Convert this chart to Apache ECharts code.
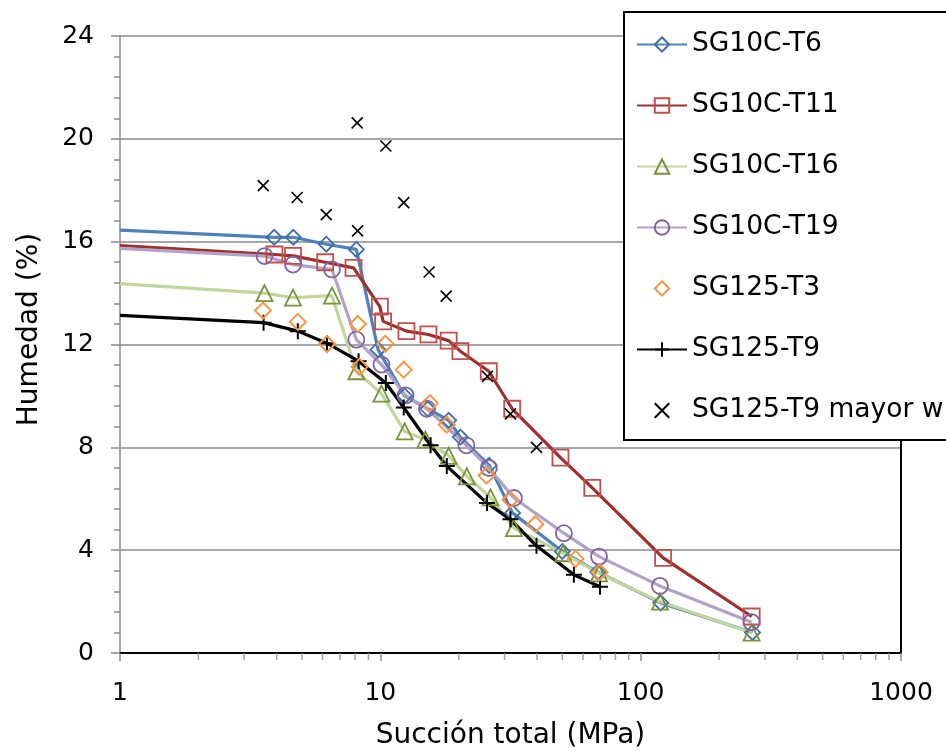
<!DOCTYPE html>
<html>
<head>
<meta charset="utf-8">
<script src="https://cdn.jsdelivr.net/npm/echarts@6/dist/echarts.min.js"></script>
<style>
html,body{margin:0;padding:0;background:#fff;}
#chart{width:946px;height:751px;}
</style>
</head>
<body>
<div id="chart"></div>
<script>
// ---- data (suction MPa, humidity %) ----
const seriesNames = ['SG10C-T6','SG10C-T11','SG10C-T16','SG10C-T19','SG125-T3','SG125-T9','SG125-T9 mayor w'];

const t6 = [[1,16.45],[3.91,16.17],[4.63,16.17],[6.2,15.9],[8.09,15.7],[9.8,11.8],[12.4,10.0],[15.2,9.5],[18.3,9.05],[20.3,8.4],[26.2,7.3],[32.2,5.45],[50,3.95],[68.4,3.15],[119.4,1.95],[269,0.8]];
const t11 = [[1,15.85],[3.92,15.5],[4.62,15.45],[6.14,15.2],[7.89,14.98],[9.96,13.47],[10.25,12.9],[12.6,12.52],[15.3,12.39],[18.3,12.15],[20.3,11.74],[26.1,10.96],[32.1,9.5],[49.2,7.6],[65.2,6.42],[122,3.7],[267,1.42]];
const t16 = [[1,14.37],[3.59,14.0],[4.62,13.82],[6.52,13.9],[8.09,10.96],[10.1,10.09],[12.4,8.62],[14.9,8.3],[18.3,7.67],[21.5,6.87],[26.5,6.05],[32.6,4.86],[50.4,3.88],[69.2,3.1],[118.6,2.0],[266.6,0.79]];
const t19 = [[1,15.74],[3.59,15.44],[4.62,15.11],[6.52,14.92],[8.09,12.19],[10.1,11.22],[12.5,10.02],[15.1,9.5],[21.4,8.08],[26.1,7.2],[32.6,6.03],[50.7,4.66],[69.2,3.75],[118.6,2.61],[266.6,1.2]];
const t3 = [[3.54,13.32],[4.82,12.88],[6.24,12.02],[8.2,12.8],[8.32,11.13],[10.45,12.03],[12.3,11.02],[15.5,9.72],[18.0,8.88],[25.6,6.9],[31.6,5.96],[39.4,5.01],[56.2,3.66],[69.6,3.14]];
const t9 = [[1,13.13],[3.56,12.85],[4.82,12.52],[6.24,12.05],[8.25,11.35],[10.5,10.5],[12.3,9.55],[15.6,8.08],[18.0,7.27],[25.7,5.83],[31.6,5.2],[39.8,4.17],[55.4,3.04],[69.8,2.58]];
const t9w = [[3.55,18.18],[4.79,17.72],[6.2,17.05],[8.15,20.62],[8.18,16.42],[10.5,19.72],[12.3,17.52],[15.4,14.82],[17.9,13.88],[25.8,10.76],[31.6,9.3],[39.8,8.0]];

const yMin = 0, yMax = 24, yStep = 4;
const xMin = 1, xMax = 1000;
const xMinorTickValues = [2,3,4,5,6,7,8,9,20,30,40,50,60,70,80,90,200,300,400,500,600,700,800,900];

// ---- build ----
const FONT = 'DejaVu Sans';
const GRID = '#8a8a8a';
const PLUS = 'path://M5,0L5,10M0,5L10,5';
const CROSS = 'path://M0,0L10,10M10,0L0,10';

function lineData(arr){
  // the point at the left edge of the axis carries the line only
  return arr.map(p => p[0] <= xMin ? {value:p, symbol:'none'} : {value:p});
}
function lineSeries(name, arr, lineColor, markColor, symbol, size, bw){
  return {
    name, type:'line', data: lineData(arr),
    symbol, symbolSize: size,
    showAllSymbol: true,
    clip: true,
    lineStyle:{color:lineColor, width:3.2},
    itemStyle:{color:'rgba(0,0,0,0)', borderColor:markColor, borderWidth:bw || 1.8},
    emphasis:{disabled:true},
    z: 3
  };
}
// marker-only series (a line series with an invisible line so the legend shows the marker alone)
function markerSeries(name, arr, markColor, symbol, size, bw){
  return {
    name, type:'line', data: arr,
    symbol, symbolSize: size, showAllSymbol:true,
    lineStyle:{color:markColor, width:0, opacity:0},
    itemStyle:{color:'rgba(0,0,0,0)', borderColor:markColor, borderWidth:bw},
    emphasis:{disabled:true},
    z: 4
  };
}

const option = {
  animation:false,
  backgroundColor:'#fff',
  textStyle:{fontFamily:FONT},
  grid:{left:120, right:45, top:36, bottom:98, containLabel:false, outerBoundsMode:'none'},
  legend:{
    orient:'vertical',
    left:624, top:12,
    padding:[19,60,16,12],
    itemGap:34,
    itemWidth:50, itemHeight:18,
    backgroundColor:'#fff',
    borderColor:'#000', borderWidth:2,
    textStyle:{fontFamily:FONT, fontSize:26.5, color:'#000'},
    data: seriesNames,
    z: 10
  },
  xAxis:[{
    type:'log', logBase:10, min:xMin, max:xMax,
    name:'Succión total (MPa)', nameLocation:'middle', nameGap:69,
    nameTextStyle:{fontFamily:FONT, fontSize:28, color:'#000'},
    axisLine:{show:true, lineStyle:{color:GRID, width:1.5}},
    axisTick:{show:true, inside:false, length:8, lineStyle:{color:GRID, width:1.5}},
    minorTick:{show:false},
    splitLine:{show:false},
    axisLabel:{fontFamily:FONT, fontSize:25, color:'#000', margin:28, formatter: v => String(v)}
  },{
    type:'log', logBase:10, min:xMin, max:xMax, position:'top',
    axisLine:{show:true, lineStyle:{color:'#000', width:2}},
    axisTick:{show:false}, axisLabel:{show:false}, splitLine:{show:false}
  }],
  yAxis:[{
    type:'value', min:yMin, max:yMax, interval:yStep,
    name:'Humedad (%)', nameLocation:'middle', nameGap:76,
    nameTextStyle:{fontFamily:FONT, fontSize:28, color:'#000', padding:[0,0,0,30]},
    axisLine:{show:true, lineStyle:{color:GRID, width:1.5}},
    axisTick:{show:true, inside:false, length:9, lineStyle:{color:GRID, width:1.5}},
    minorTick:{show:true, splitNumber:5, length:6, lineStyle:{color:GRID, width:1.5}},
    splitLine:{show:true, lineStyle:{color:GRID, width:1.5}},
    axisLabel:{fontFamily:FONT, fontSize:25, color:'#000', margin:26}
  },{
    type:'value', min:yMin, max:yMax, interval:yStep, position:'right',
    axisLine:{show:true, lineStyle:{color:'#000', width:2}},
    axisTick:{show:false}, axisLabel:{show:false}, splitLine:{show:false}
  }],
  series:[
    lineSeries('SG10C-T6', t6, '#4F81BD', '#3C6EA8', 'diamond', 15),
    lineSeries('SG10C-T11', t11, '#9E2F2C', '#C0504D', 'rect', 16),
    lineSeries('SG10C-T16', t16, '#C2D69B', '#77933C', 'triangle', 16),
    lineSeries('SG10C-T19', t19, '#B3A2C7', '#8064A2', 'circle', 16),
    markerSeries('SG125-T3', t3, '#F79646', 'diamond', 16, 2),
    lineSeries('SG125-T9', t9, '#000', '#000', PLUS, 16, 2),
    markerSeries('SG125-T9 mayor w', t9w, '#000', CROSS, 11, 1.6),
    {
      // minor ticks of the logarithmic axis (2..9 of each decade)
      name:'_minorTicks', type:'scatter', silent:true, clip:false,
      data: xMinorTickValues.map(v => [v, yMin]),
      symbol:'rect', symbolSize:[1.5,7], symbolOffset:[0,3.5],
      itemStyle:{color:GRID}, z:1
    }
  ]
};

const chart = echarts.init(document.getElementById('chart'), null, {renderer:'canvas'});
chart.setOption(option);
</script>
</body>
</html>
